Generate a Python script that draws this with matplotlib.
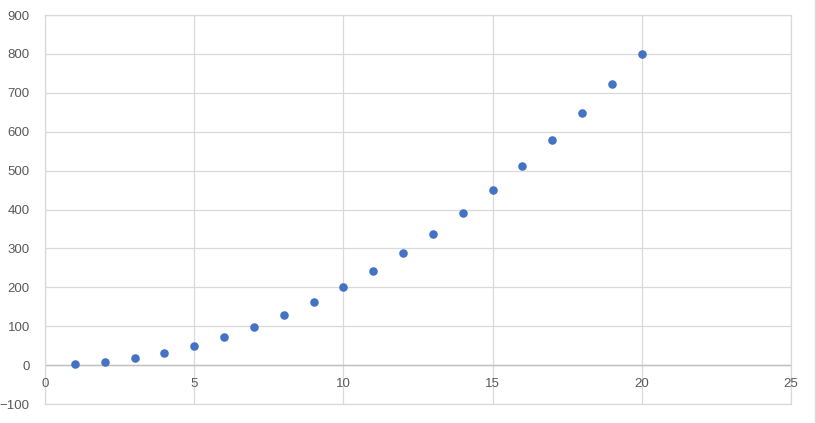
import matplotlib
matplotlib.use("Agg")
import matplotlib.pyplot as plt

x_values = [1, 2, 3, 4, 5, 6, 7, 8, 9, 10, 11, 12, 13, 14, 15, 16, 17, 18, 19, 20]
y_values = [2, 8, 18, 32, 50, 72, 98, 128, 162, 200, 242, 288, 338, 392, 450, 512, 578, 648, 722, 800]
x_ticks = [0, 5, 10, 15, 20, 25]
y_ticks = [-100, 0, 100, 200, 300, 400, 500, 600, 700, 800, 900]

plt.rcParams['font.family'] = ['Liberation Sans', 'DejaVu Sans']
fig = plt.figure(figsize=(8.16, 4.23), dpi=100)
ax = fig.add_axes([45/816, 1-404/423, (791-45)/816, (404-15)/423])

grid_c = '#d9d9d9'
text_c = '#595959'
ax.scatter(x_values, y_values, s=38, color='#4472C4', zorder=3, linewidths=0)
ax.set_xlim(0, 25)
ax.set_ylim(-100, 900)
ax.set_xticks(x_ticks)
ax.set_yticks(y_ticks)
ax.grid(True, color=grid_c, linewidth=0.9)
ax.set_axisbelow(True)
for s in ['top', 'right', 'left', 'bottom']:
    ax.spines[s].set_visible(True)
    ax.spines[s].set_color(grid_c)
    ax.spines[s].set_linewidth(0.9)
ax.axhline(0, color='#bfbfbf', linewidth=1.0, zorder=2)
ax.tick_params(axis='both', length=0, labelsize=9.5, colors=text_c)
ax.tick_params(axis='y', pad=11)
for lbl in ax.get_xticklabels():
    lbl.set_visible(False)
for t in x_ticks:
    ax.annotate(str(t), xy=(t, 0), xytext=(0, -9), textcoords='offset points',
                ha='center', va='top', fontsize=9.5, color=text_c)
# figure border on right
fig.add_artist(plt.Line2D([815/816, 815/816], [0, 1], color='#d9d9d9', linewidth=1, transform=fig.transFigure))
fig.savefig('out.png', dpi=100)
